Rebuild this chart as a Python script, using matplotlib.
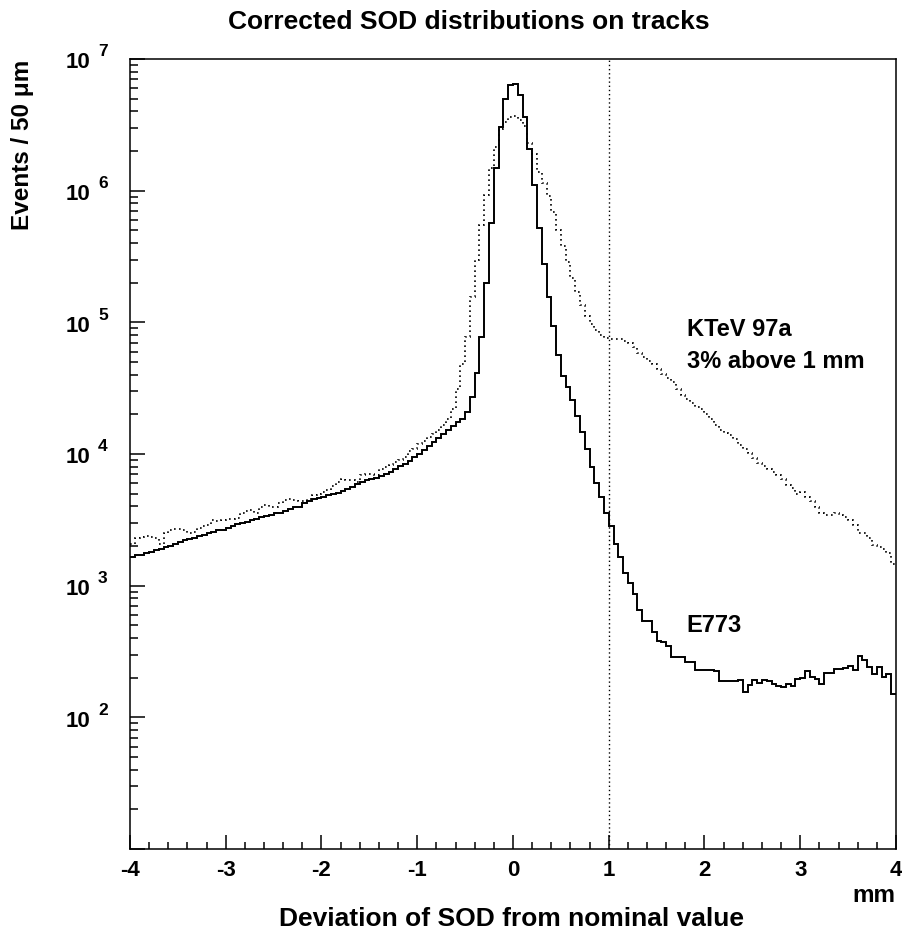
import matplotlib
matplotlib.use("Agg")
import matplotlib.pyplot as plt
import numpy as np
from matplotlib.ticker import MultipleLocator, LogLocator, NullFormatter

plt.rcParams['font.family'] = ['Liberation Sans', 'DejaVu Sans']
plt.rcParams['font.weight'] = 'bold'

# 160 bins of 50 um between -4 and +4 mm
bin_edges = np.linspace(-4.0, 4.0, 161)

# E773 (solid histogram), events per bin
e773_counts = [
    1660, 1700, 1720, 1780, 1800, 1860, 1900, 1950, 2000, 2070,
    2140, 2210, 2260, 2320, 2370, 2430, 2510, 2570, 2660, 2630,
    2750, 2850, 2920, 2990, 3050, 3130, 3200, 3310, 3390, 3470,
    3550, 3590, 3670, 3800, 3980, 3950, 4270, 4370, 4520, 4620,
    4730, 4840, 4950, 5070, 5250, 5430, 5620, 5890, 6100, 6310,
    6460, 6610, 6760, 7000, 7330, 7670, 8040, 8410, 8910, 9440,
    10000, 10700, 11500, 12300, 13200, 14100, 15300, 16200, 17400, 18600,
    20900, 26900, 41200, 77600, 200000, 569000, 1480000, 3020000, 5000000, 6300000,
    6460000, 5370000, 3630000, 2090000, 1100000, 525000, 275000, 155000, 93300, 56200,
    38900, 32400, 25700, 19500, 14800, 11000, 7940, 6030, 4680, 3550,
    2820, 2090, 1640, 1240, 1050, 861, 655, 543, 537, 447,
    380, 376, 347, 288, 288, 286, 261, 261, 229, 229,
    229, 229, 224, 189, 189, 189, 189, 193, 157, 177,
    193, 182, 191, 190, 178, 174, 170, 180, 174, 195,
    200, 225, 202, 195, 180, 219, 219, 232, 232, 237,
    245, 229, 292, 272, 243, 214, 240, 203, 214, 151,
]

# KTeV 97a (dotted histogram)
ktev_counts = [
    2090, 2290, 2340, 2370, 2340, 2320, 2090, 2510, 2630, 2690,
    2690, 2660, 2510, 2570, 2750, 2820, 2880, 3160, 3090, 3160,
    3200, 3200, 3240, 3550, 3670, 3760, 3550, 3980, 4070, 3980,
    3980, 4270, 4470, 4520, 4470, 4370, 4370, 4570, 4840, 5010,
    5130, 5310, 5750, 6170, 6460, 6310, 6310, 6170, 6920, 7080,
    7000, 6920, 7760, 7940, 8320, 8710, 9020, 9550, 10500, 11000,
    12000, 12600, 13500, 14100, 15100, 16600, 18600, 21900, 30900, 47900,
    77600, 155000, 295000, 550000, 933000, 1480000, 2140000, 2950000, 3310000, 3630000,
    3690000, 3470000, 3090000, 2290000, 1910000, 1380000, 1150000, 912000, 692000, 501000,
    380000, 288000, 219000, 170000, 135000, 112000, 97700, 88100, 80400, 75900,
    74100, 74100, 74100, 72400, 69200, 64600, 58900, 55000, 51300, 47900,
    44200, 40700, 38000, 35100, 30900, 28200, 26300, 24500, 22900, 21900,
    20000, 18600, 16600, 15100, 14500, 14000, 12900, 11700, 11000, 10200,
    9330, 8510, 8130, 7760, 7240, 6920, 6460, 5820, 5500, 5010,
    5190, 4680, 4370, 3980, 3550, 3470, 3470, 3550, 3470, 3310,
    3130, 2880, 2510, 2510, 2290, 2040, 1950, 1910, 1780, 1450,
]

decades = [2, 3, 4, 5, 6, 7]

fig = plt.figure(figsize=(9.03, 9.33), dpi=100)
ax = fig.add_axes([130 / 903, 1 - 849 / 933, 766 / 903, 790 / 933])

ax.stairs(e773_counts, bin_edges, baseline=None, color='black', linewidth=1.4)
ax.stairs(ktev_counts, bin_edges, baseline=None, color='black', linewidth=1.2,
          linestyle=(0, (1, 2)))
ax.axvline(1.0, color='black', linewidth=1.0, linestyle=(0, (1, 2)))

ax.set_xlim(-4, 4)
ax.set_yscale('log')
ax.set_ylim(10, 1e7)

for s in ax.spines.values():
    s.set_linewidth(1.1)

ax.xaxis.set_major_locator(MultipleLocator(1))
ax.xaxis.set_minor_locator(MultipleLocator(0.2))
ax.yaxis.set_major_locator(LogLocator(base=10, numticks=10))
ax.yaxis.set_minor_locator(LogLocator(base=10, subs=np.arange(2, 10), numticks=20))
ax.yaxis.set_major_formatter(NullFormatter())
ax.yaxis.set_minor_formatter(NullFormatter())

ax.tick_params(axis='both', which='both', direction='in', top=False, right=False, width=1.1)
ax.tick_params(axis='y', which='major', length=10.8)
ax.tick_params(axis='y', which='minor', length=5.5)
ax.tick_params(axis='x', which='major', length=10, labelsize=16, pad=8)
ax.tick_params(axis='x', which='minor', length=5)
ax.set_xticks([-4, -3, -2, -1, 0, 1, 2, 3, 4])
ax.set_xticklabels(['-4', '-3', '-2', '-1', '0', '1', '2', '3', '4'], fontweight='bold')

# ROOT-style "10 ^n" labels on the y axis
for e in decades:
    ax.annotate('10', xy=(0, 10 ** e), xycoords=('axes fraction', 'data'),
                xytext=(-28.5, -6.7), textcoords='offset points',
                ha='right', va='baseline', fontsize=16, fontweight='bold')
    ax.annotate(str(e), xy=(0, 10 ** e), xycoords=('axes fraction', 'data'),
                xytext=(-23, 2.0), textcoords='offset points',
                ha='left', va='baseline', fontsize=12.5, fontweight='bold')

ax.text(1.815, 8.8e4, 'KTeV 97a', ha='left', va='center', fontsize=17, fontweight='bold')
ax.text(1.815, 5.0e4, '3% above 1 mm', ha='left', va='center', fontsize=17, fontweight='bold')
ax.text(1.807, 500, 'E773', ha='left', va='center', fontsize=17, fontweight='bold')

fig.text(469 / 903, 1 - 22 / 933, 'Corrected SOD distributions on tracks',
         ha='center', va='center', fontsize=19, fontweight='bold')
fig.text(512 / 903, 1 - 919 / 933, 'Deviation of SOD from nominal value',
         ha='center', va='center', fontsize=19, fontweight='bold')
fig.text(895 / 903, 1 - 896 / 933, 'mm', ha='right', va='center',
         fontsize=17.5, fontweight='bold')
fig.text(23 / 903, 1 - 60 / 933, 'Events / 50 \u03bcm', rotation=90,
         ha='center', va='top', fontsize=17.5, fontweight='bold')

fig.savefig('out.png', dpi=100, facecolor='white')
